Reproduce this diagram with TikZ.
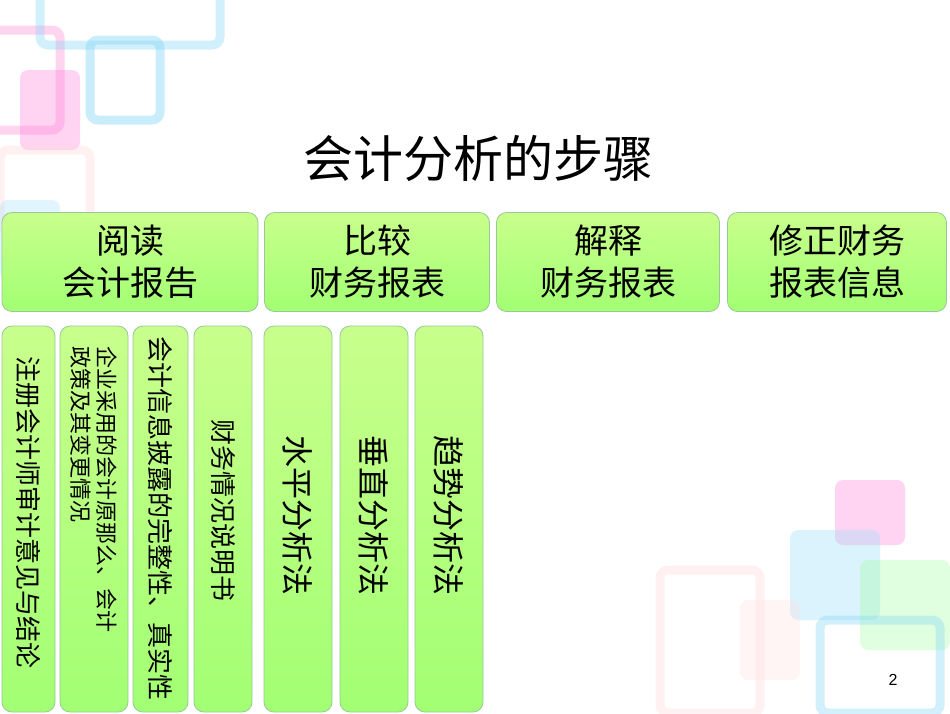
\documentclass[tikz,border=0pt]{standalone}
\usepackage{fontspec}
\setmainfont{Noto Sans CJK SC}
\newfontfamily\arialf{Liberation Sans}
\begin{document}
\begin{tikzpicture}[x=1pt,y=-1pt,
  gbox/.style={draw=green!45!black!40,rounded corners=10pt,top color=green!30!lime!45,bottom color=green!55!lime!55,line width=0.8pt},
  deco/.style={rounded corners=8pt,line width=9pt,opacity=0.35},
  vtext/.style={rotate=-90,font=\fontsize{26}{30}\selectfont},
  htext/.style={align=center,font=\fontsize{34}{42}\selectfont}]
\useasboundingbox (0,0) rectangle (950,713);
\fill[white] (0,0) rectangle (950,713);
% decorations
\draw[deco,draw=pink!70!magenta] (-10,30) rectangle (60,130);
\draw[deco,draw=cyan!60] (90,40) rectangle (160,120);
\draw[deco,draw=cyan!50] (40,-20) rectangle (220,45);
\fill[pink!60!magenta,opacity=0.3,rounded corners=8pt] (20,70) rectangle (80,150);
\draw[deco,draw=pink!60] (0,150) rectangle (90,230);
\fill[cyan!40,opacity=0.3,rounded corners=8pt] (0,200) rectangle (60,280);
\fill[pink!60!magenta,opacity=0.3,rounded corners=8pt] (835,480) rectangle (905,545);
\fill[cyan!40,opacity=0.35,rounded corners=8pt] (790,530) rectangle (880,620);
\draw[deco,draw=pink!60] (660,570) rectangle (760,713);
\fill[green!40,opacity=0.3,rounded corners=8pt] (860,560) rectangle (950,650);
\draw[deco,draw=cyan!50] (820,620) rectangle (940,713);
\fill[pink!50,opacity=0.3,rounded corners=8pt] (740,600) rectangle (800,680);
\node[font=\fontsize{50}{56}\selectfont] (title) at (478,158) {会计分析的步骤};
% top boxes
\node[gbox,minimum width=256pt,minimum height=99pt] (t1) at (130,262) {};
\node[htext] at (t1) {阅读\\会计报告};
\node[gbox,minimum width=225pt,minimum height=99pt] (t2) at (377,262) {};
\node[htext] at (t2) {比较\\财务报表};
\node[gbox,minimum width=223pt,minimum height=99pt] (t3) at (608,262) {};
\node[htext] at (t3) {解释\\财务报表};
\node[gbox,minimum width=219pt,minimum height=99pt] (t4) at (837,262) {};
\node[htext] at (t4) {修正财务\\报表信息};
% bottom boxes
\draw[gbox] (2,326) rectangle (55,712) coordinate (b1);
\node[vtext] (v1) at (28,512) {注册会计师审计意见与结论};
\draw[gbox] (60,326) rectangle (128,712);
\node[vtext,anchor=west,align=left,font=\fontsize{22}{26}\selectfont] (v2) at (94,343) {企业采用的会计原那么、会计\\政策及其变更情况};
\draw[gbox] (133,326) rectangle (188,712);
\node[vtext,anchor=west] (v3) at (160,333) {会计信息披露的完整性、真实性};
\draw[gbox] (194,326) rectangle (252,712);
\node[vtext] (v4) at (223,510) {财务情况说明书};
\draw[gbox] (264,326) rectangle (332,712);
\node[vtext,font=\fontsize{32}{36}\selectfont] (v5) at (298,515) {水平分析法};
\draw[gbox] (340,326) rectangle (408,712);
\node[vtext,font=\fontsize{32}{36}\selectfont] (v6) at (374,515) {垂直分析法};
\draw[gbox] (415,326) rectangle (483,712);
\node[vtext,font=\fontsize{32}{36}\selectfont] (v7) at (449,515) {趋势分析法};
\node[font=\arialf\fontsize{16}{18}\selectfont] (pg) at (893,680) {2};
\end{tikzpicture}
\end{document}
